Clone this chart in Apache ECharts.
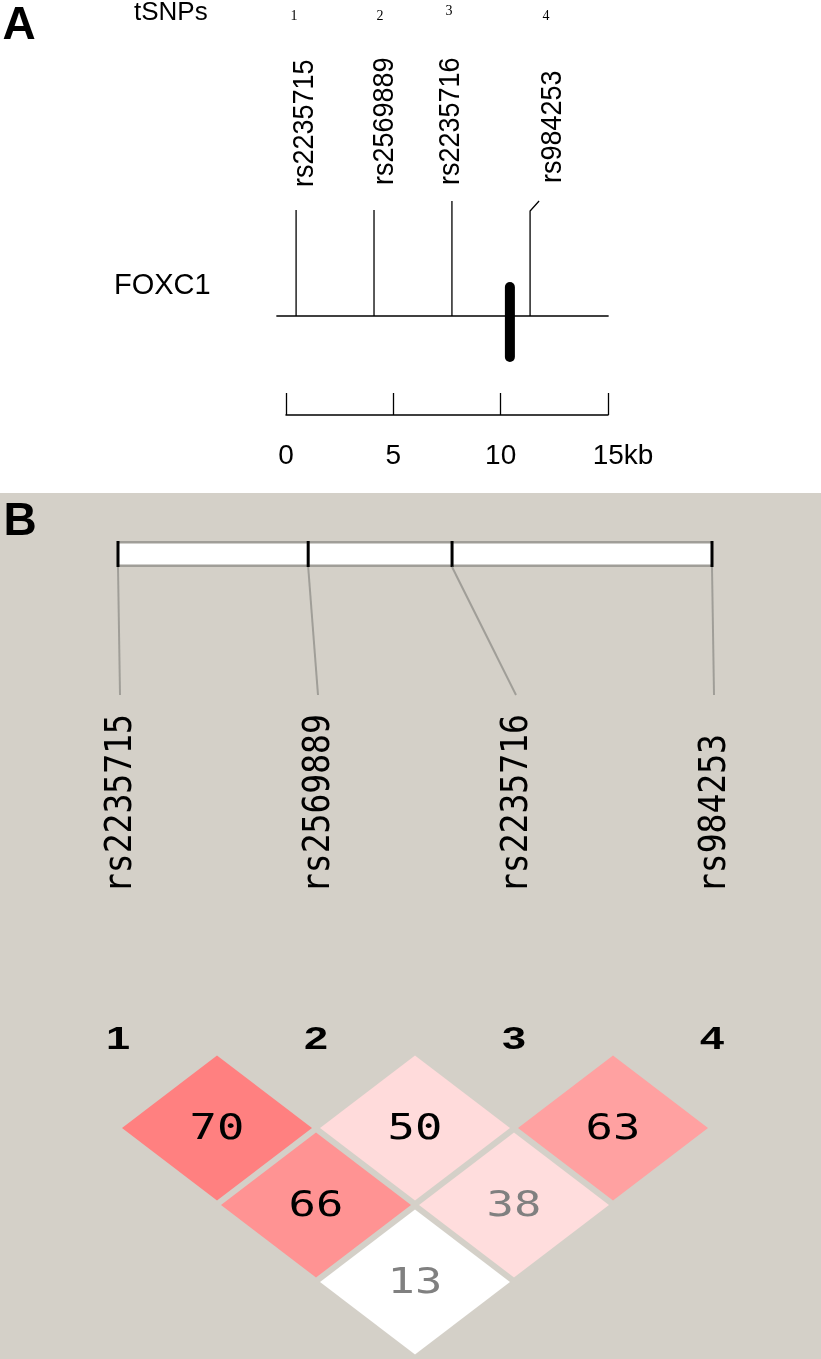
<!DOCTYPE html>
<html>
<head>
<meta charset="utf-8">
<script src="https://cdn.jsdelivr.net/npm/echarts@6/dist/echarts.min.js"></script>
<style>
html,body{margin:0;padding:0;background:#fff;}
#c{width:821px;height:1359px;}
</style>
</head>
<body>
<div id="c"></div>
<script>
// ---------------- data ----------------
const snpIds      = ['rs2235715', 'rs2569889', 'rs2235716', 'rs984253'];
const snpNumbers  = ['1', '2', '3', '4'];
const snpKbA      = [0.47, 4.10, 7.73, 11.37];      // tSNP positions on panel A map (kb)
const geneName    = 'FOXC1';
const geneKb      = 10.43;                          // FOXC1 gene position (kb)
const regionKb    = [-0.45, 15.03];                 // drawn genomic region (kb)
const scaleTicks  = [0, 5, 10, 15];                 // scale bar ticks (kb)
const scaleUnit   = 'kb';
const snpKbB      = [0.47, 3.96, 6.60, 11.37];      // marker positions on Haploview map (kb)
const ldPairs     = [[1, 2], [2, 3], [3, 4], [1, 3], [2, 4], [1, 4]];
const ldValues    = [70, 50, 63, 66, 38, 13];       // D' x 100

// ---------------- styles ----------------
const ldFill      = ['#ff8080', '#ffdbdb', '#ffa1a1', '#ff9393', '#ffdddd', '#ffffff'];
const ldTextColor = ['#000000', '#000000', '#000000', '#000000', '#808080', '#808080'];
const SANS  = '"Liberation Sans", Arial, Helvetica, sans-serif';
const SERIF = '"Liberation Serif", "Times New Roman", serif';
const MONO  = '"DejaVu Sans Mono", monospace';
const panelBColor = '#d4d0c8';
const hvGray = '#a09e98';

// layout offsets (pixels) for panel A annotations
const lineTopA   = [106, 106, 115, 105];
const kinkA      = [0, 0, 0, 9];
const labelDxA   = [9, 11, -1, 23];
const labelBotA  = [129, 131, 131, 133];
const numDxA     = [-2, 6, -3, 16];
const numDyA     = [300, 300, 305, 300];

const chart = echarts.init(document.getElementById('c'), null, {renderer: 'canvas', width: 821, height: 1359});

function renderGene(params, api) {
  const g  = api.coord([api.value(0), 0]);
  const l  = api.coord([api.value(2), 0]);
  const r  = api.coord([api.value(3), 0]);
  return {
    type: 'group',
    children: [
      {type: 'line', shape: {x1: l[0], y1: g[1], x2: r[0], y2: g[1]}, style: {stroke: '#000', lineWidth: 1.5}},
      {type: 'line', shape: {x1: g[0], y1: g[1] - 29, x2: g[0], y2: g[1] + 41},
        style: {stroke: '#000', lineWidth: 10, lineCap: 'round'}}
    ]
  };
}

function renderSnpA(params, api) {
  const i = api.value(2);
  const p = api.coord([api.value(0), 0]);
  const x = p[0], y0 = p[1];
  const children = [];
  if (kinkA[i]) {
    children.push({type: 'polyline', shape: {points: [[x, y0], [x, y0 - lineTopA[i]], [x + kinkA[i], y0 - lineTopA[i] - 10]]},
      style: {stroke: '#000', lineWidth: 1.3, fill: null}});
  } else {
    children.push({type: 'line', shape: {x1: x, y1: y0, x2: x, y2: y0 - lineTopA[i]}, style: {stroke: '#000', lineWidth: 1.3}});
  }
  children.push({
    type: 'text', x: x + labelDxA[i], y: y0 - labelBotA[i], rotation: Math.PI / 2, scaleY: 1.08,
    style: {text: snpIds[i], fontFamily: SANS, fontSize: 27, fill: '#000',
      align: 'left', verticalAlign: 'middle', textAlign: 'left', textVerticalAlign: 'middle'}
  });
  children.push({
    type: 'text', x: x + numDxA[i], y: y0 - numDyA[i],
    style: {text: snpNumbers[i], fontFamily: SERIF, fontSize: 14, fill: '#000',
      align: 'center', verticalAlign: 'middle', textAlign: 'center', textVerticalAlign: 'middle'}
  });
  return {type: 'group', children};
}

function renderMarkersB(params, api) {
  const kb = api.value(0), i = api.value(1);
  const n = snpKbB.length, first = snpKbB[0], last = snpKbB[n - 1];
  const toCol = k => 1 + (k - first) / (last - first) * (n - 1);
  const pb = api.coord([toCol(kb), 0]);
  const pc = api.coord([i + 1, 0]);
  const y0 = pc[1];
  const barTop = y0 - 510, barBot = y0 - 484;
  const children = [];
  if (i === 0) {
    const l = api.coord([toCol(first), 0])[0], r = api.coord([toCol(last), 0])[0];
    children.push({type: 'rect', shape: {x: l, y: barTop, width: r - l, height: barBot - barTop}, style: {fill: '#ffffff'}});
    children.push({type: 'rect', shape: {x: l, y: barTop, width: r - l, height: 2.5}, style: {fill: hvGray}});
    children.push({type: 'rect', shape: {x: l, y: barBot - 2.5, width: r - l, height: 2.5}, style: {fill: hvGray}});
  }
  children.push({type: 'rect', shape: {x: pb[0] - 1.5, y: barTop, width: 3, height: barBot - barTop}, style: {fill: '#000'}});
  children.push({type: 'line', shape: {x1: pb[0], y1: barBot, x2: pc[0] + 2, y2: y0 - 356}, style: {stroke: hvGray, lineWidth: 2}});
  children.push({
    type: 'text', x: pc[0] + 3, y: y0 - 158, rotation: Math.PI / 2, scaleY: 1.15,
    style: {text: snpIds[i], fontFamily: MONO, fontSize: 33, fill: '#000',
      align: 'left', verticalAlign: 'middle', textAlign: 'left', textVerticalAlign: 'middle'}
  });
  children.push({
    type: 'text', x: pc[0], y: y0 - 11, scaleX: 1.35,
    style: {text: snpNumbers[i], fontFamily: SANS, fontWeight: 'bold', fontSize: 32, fill: '#000',
      align: 'center', verticalAlign: 'middle', textAlign: 'center', textVerticalAlign: 'middle'}
  });
  return {type: 'group', children};
}

function renderLD(params, api) {
  const cx = api.value(0), row = api.value(1), k = api.value(3);
  const c = api.coord([cx, row]);
  const l = api.coord([cx - 0.5, row]);
  const t = api.coord([cx, row - 1]);
  const hw = c[0] - l[0] - 4, hh = c[1] - t[1] - 4.5;
  return {
    type: 'group',
    children: [
      {type: 'polygon', shape: {points: [[c[0] - hw, c[1]], [c[0], c[1] - hh], [c[0] + hw, c[1]], [c[0], c[1] + hh]]},
        style: {fill: ldFill[k]}},
      {type: 'text', x: c[0], y: c[1] + 2, scaleX: 1.3,
        style: {text: String(api.value(2)), fontFamily: MONO, fontSize: 35, fill: ldTextColor[k],
          align: 'center', verticalAlign: 'middle', textAlign: 'center', textVerticalAlign: 'middle'}}
    ]
  };
}

const lastTick = scaleTicks[scaleTicks.length - 1];

const option = {
  animation: false,
  backgroundColor: '#ffffff',
  graphic: [
    {type: 'rect', shape: {x: 0, y: 493, width: 821, height: 866}, style: {fill: panelBColor}, z: -10, silent: true},
    {type: 'text', x: 19, y: 26, z: 10, style: {text: 'A', fontFamily: SANS, fontWeight: 'bold', fontSize: 46, fill: '#000',
      align: 'center', verticalAlign: 'middle', textAlign: 'center', textVerticalAlign: 'middle'}},
    {type: 'text', x: 20, y: 522, z: 10, style: {text: 'B', fontFamily: SANS, fontWeight: 'bold', fontSize: 46, fill: '#000',
      align: 'center', verticalAlign: 'middle', textAlign: 'center', textVerticalAlign: 'middle'}},
    {type: 'text', x: 134, y: 13, z: 10, style: {text: 'tSNPs', fontFamily: SANS, fontSize: 26, fill: '#000',
      align: 'left', verticalAlign: 'middle', textAlign: 'left', textVerticalAlign: 'middle'}},
    {type: 'text', x: 114, y: 286, z: 10, style: {text: geneName, fontFamily: SANS, fontSize: 29, fill: '#000',
      align: 'left', verticalAlign: 'middle', textAlign: 'left', textVerticalAlign: 'middle'}}
  ],
  grid: [
    {left: 286, width: 322, top: 217, height: 198},
    {left: 118, width: 594, top: 1051, height: 231}
  ],
  xAxis: [
    {
      gridIndex: 0, type: 'value', min: scaleTicks[0], max: lastTick, interval: scaleTicks[1] - scaleTicks[0],
      position: 'bottom',
      axisLine: {show: true, onZero: false, lineStyle: {color: '#000', width: 1.5}},
      axisTick: {show: true, inside: true, length: 22, lineStyle: {color: '#000', width: 1.3}},
      splitLine: {show: false},
      axisLabel: {
        show: true, margin: 27, color: '#000', fontFamily: SANS, fontSize: 28,
        formatter: v => v === lastTick ? '{p|}' + v + scaleUnit : String(v),
        rich: {p: {width: 30, height: 10}}
      }
    },
    {gridIndex: 1, type: 'value', min: 1, max: snpIds.length, show: false}
  ],
  yAxis: [
    {gridIndex: 0, type: 'value', min: -1, max: 1, show: false},
    {gridIndex: 1, type: 'value', min: 0, max: snpIds.length - 1, inverse: true, show: false}
  ],
  series: [
    {
      type: 'custom', name: 'gene', xAxisIndex: 0, yAxisIndex: 0, renderItem: renderGene,
      data: [[geneKb, 0, regionKb[0], regionKb[1]]], silent: true
    },
    {
      type: 'custom', name: 'tSNPs', xAxisIndex: 0, yAxisIndex: 0, renderItem: renderSnpA,
      data: snpKbA.map((kb, i) => [kb, 0, i]), silent: true
    },
    {
      type: 'custom', name: 'markers', xAxisIndex: 1, yAxisIndex: 1, renderItem: renderMarkersB,
      data: snpKbB.map((kb, i) => [kb, i]), silent: true
    },
    {
      type: 'custom', name: 'LD', xAxisIndex: 1, yAxisIndex: 1, renderItem: renderLD,
      data: ldPairs.map((p, k) => [(p[0] + p[1]) / 2, p[1] - p[0], ldValues[k], k]), silent: true
    }
  ]
};
chart.setOption(option);
</script>
</body>
</html>
